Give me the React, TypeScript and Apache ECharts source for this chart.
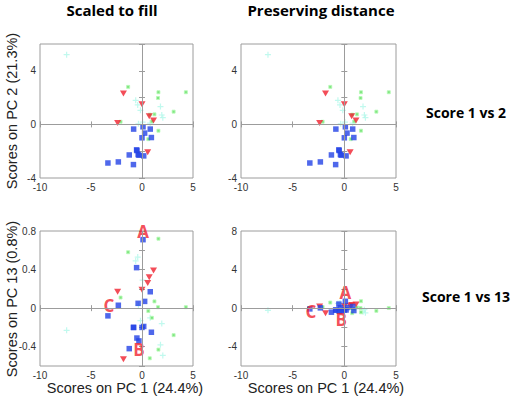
import React, { useEffect, useRef } from "react";
import * as echarts from "echarts";

// Blue squares
const bluePc1 = [0.1, 0.81, 0.26, 0, 0.92, 0.17, -2.32, -3.34, -1.25, -0.82, -0.84, -0.53, -0.5, -0.38, -0.3];
const bluePc2 = [-0.18, -0.35, -0.65, -1.0, -0.98, -2.35, -2.8, -2.88, -2.28, -0.35, -3.0, -1.9, -1.95, -2.25, -2.3];
const bluePc13 = [0.71, 0.17, 0.07, -0.2, -0.25, -0.19, 0.03, -0.08, -0.42, -0.2, -0.2, 0.42, -0.31, 0.05, -0.34];

// Red triangles
const redPc1 = [-1.82, 0, -2.39, 0.71, 1.13, 0.56];
const redPc2 = [2.3, 1.5, 0.1, 0.6, 0.3, -2.08];
const redPc13 = [-0.53, 0.19, 0.17, 0.32, 0.39, 0.26];

// Green small squares
const greenPc1 = [-1.36, 1.61, 1.57, 4.3, 3.1, 1.22, -2.1, 1.61, 0.62, 0.76, 0.97];
const greenPc2 = [2.8, 2.4, 1.97, 2.4, 0.95, 0.75, 0.2, -0.47, -1.1, 0.73, 0.22];
const greenPc13 = [0.58, 0.72, 0.01, 0.01, -0.28, 0.07, 0.11, -0.43, -0.03, -0.52, -0.1];

// Cyan plus signs
const cyanPc1 = [-7.39, -0.62, -0.42, -0.15, 1.81, 1.94, 2.04, 0.06, 0.8, -0.35];
const cyanPc2 = [5.2, 1.8, 1.45, 1.05, 1.33, 0.7, 0.5, 0.17, 0.1, 0.05];
const cyanPc13 = [-0.23, 0.49, 0.53, -0.13, -0.38, -0.16, -0.49, 0.29, -0.1, 0.03];

// Annotated blue points
const annNames = ["A", "B", "C"];
const annBlueIndex = [0, 14, 6];

const columnTitles = ["Scaled to fill", "Preserving distance"];
const rowTitles = ["Score 1 vs 2", "Score 1 vs 13"];
const xTitle = "Scores on PC 1 (24.4%)";
const yTitles = ["Scores on PC 2 (21.3%)", "Scores on PC 13 (0.8%)"];

const BLUE = "#2342e6";
const RED = "#f0212e";
const GREEN = "#62e062";
const GREEN_EDGE = "#b6fab6";
const CYAN = "#b2f8ea";
const GRAYLINE = "#9c9c9c";

const grids = [
  { left: 40, top: 44, width: 153, height: 134 },
  { left: 241, top: 44, width: 155, height: 134 },
  { left: 40, top: 231, width: 153, height: 135 },
  { left: 241, top: 231, width: 155, height: 135 },
];

const yRanges = [
  { min: -4, max: 6, interval: 2, labelStep: 4 },
  { min: -4, max: 6, interval: 2, labelStep: 4 },
  { min: -0.6, max: 0.8, interval: 0.2, labelStep: 0.4 },
  { min: -6, max: 8, interval: 2, labelStep: 4 },
];

const zip = (a: number[], b: number[]) => a.map((v, i) => [v, b[i]]);

export default function App() {
  const ref = useRef<HTMLDivElement>(null);
  useEffect(() => {
    if (!ref.current) return;
    const chart = echarts.init(ref.current, undefined, { renderer: "svg" });
    const labelFont = { fontFamily: "Liberation Sans", fontSize: 10, color: "#333" };

    const xAxes: any[] = [];
    const yAxes: any[] = [];
    grids.forEach((g, i) => {
      xAxes.push({
        type: "value", gridIndex: i, min: -10, max: 5, interval: 5, position: "bottom",
        axisLine: { show: false }, splitLine: { show: false },
        axisTick: { show: true, inside: true, length: 3, lineStyle: { color: GRAYLINE } },
        axisLabel: { ...labelFont, margin: 4 },
      });
      const yr = yRanges[i];
      yAxes.push({
        type: "value", gridIndex: i, min: yr.min, max: yr.max, interval: yr.interval, position: "left",
        axisLine: { show: false }, splitLine: { show: false },
        axisTick: { show: true, inside: true, length: 3, lineStyle: { color: GRAYLINE } },
        axisLabel: {
          ...labelFont, margin: 4,
          formatter: (v: number) => {
            const r = v / yr.labelStep;
            if (Math.abs(r - Math.round(r)) > 1e-6) return "";
            return String(Math.round(v * 10) / 10);
          },
        },
      });
    });
    grids.forEach((g, i) => {
      xAxes.push({
        type: "value", gridIndex: i, min: -10, max: 5, interval: 5, position: "top",
        axisLine: { show: false }, splitLine: { show: false }, axisLabel: { show: false },
        axisTick: { show: true, inside: true, length: 3, lineStyle: { color: GRAYLINE } },
      });
      const yr = yRanges[i];
      yAxes.push({
        type: "value", gridIndex: i, min: yr.min, max: yr.max, interval: yr.interval, position: "right",
        axisLine: { show: false }, splitLine: { show: false }, axisLabel: { show: false },
        axisTick: { show: true, inside: true, length: 3, lineStyle: { color: GRAYLINE } },
      });
    });

    const series: any[] = [];
    grids.forEach((g, i) => {
      const bottom = i >= 2;
      const by = bottom ? bluePc13 : bluePc2;
      const ry = bottom ? redPc13 : redPc2;
      const gy = bottom ? greenPc13 : greenPc2;
      const cy = bottom ? cyanPc13 : cyanPc2;
      const common = { type: "scatter", xAxisIndex: i, yAxisIndex: i, silent: true };
      series.push({
        ...common, data: zip(cyanPc1, cy), symbol: "path://M4,0H6V4H10V6H6V10H4V6H0V4H4Z", symbolSize: 6,
        itemStyle: { color: CYAN },
        markLine: {
          silent: true, symbol: "none", label: { show: false },
          lineStyle: { color: GRAYLINE, width: 1, type: "solid" },
          data: [{ xAxis: 0 }, { yAxis: 0 }],
        },
      });
      series.push({ ...common, data: zip(greenPc1, gy), symbol: "rect", symbolSize: 3, itemStyle: { color: GREEN, borderColor: GREEN_EDGE, borderWidth: 1 } });
      series.push({ ...common, data: zip(redPc1, ry), symbol: "triangle", symbolRotate: 180, symbolSize: [7, 6], itemStyle: { color: RED } });
      series.push({ ...common, data: zip(bluePc1, by), symbol: "rect", symbolSize: 5.5, itemStyle: { color: BLUE } });
      if (bottom) {
        series.push({
          ...common, symbolSize: 0,
          data: annNames.map((n, k) => {
            const idx = annBlueIndex[k];
            const pos = n === "A" ? "top" : n === "B" ? "bottom" : "left";
            const off = n === "C" && i === 3 ? [0, 4] : [0, 0];
            return {
              name: n, value: [bluePc1[idx], by[idx]],
              label: { position: pos, distance: n === "C" ? 4 : 0, offset: off },
            };
          }),
          label: {
            show: true, formatter: "{b}", color: RED, fontFamily: "Open Sans", fontWeight: 700, fontSize: 17,
          },
        });
      }
    });

    const graphic: any[] = [];
    columnTitles.forEach((t, i) => {
      graphic.push({
        type: "text", x: i === 0 ? 112 : 321, y: 10,
        style: { text: t, fill: "#000", font: "bold 15px 'Open Sans'", textAlign: "center", textVerticalAlign: "middle" },
      });
    });
    rowTitles.forEach((t, i) => {
      graphic.push({
        type: "text", x: 466, y: i === 0 ? 112 : 296,
        style: { text: t, fill: "#000", font: "bold 14px 'Open Sans'", textAlign: "center", textVerticalAlign: "middle" },
      });
    });
    [125, 326].forEach((x) => {
      graphic.push({
        type: "text", x, y: 388,
        style: { text: xTitle, fill: "#222", font: "14.5px 'Liberation Sans'", textAlign: "center", textVerticalAlign: "middle" },
      });
    });
    yTitles.forEach((t, i) => {
      graphic.push({
        type: "text", x: 12, y: i === 0 ? 111 : 299, rotation: Math.PI / 2,
        style: { text: t, fill: "#222", font: "14.5px 'Liberation Sans'", textAlign: "center", textVerticalAlign: "middle" },
      });
    });

    chart.setOption({
      animation: false,
      backgroundColor: "#fff",
      grid: grids.map((g) => ({ ...g, show: true, borderColor: GRAYLINE, borderWidth: 1, backgroundColor: "transparent" })),
      xAxis: xAxes,
      yAxis: yAxes,
      series,
      graphic,
    });
    return () => chart.dispose();
  }, []);
  return <div ref={ref} style={{ position: "absolute", left: 0, top: 0, width: 521, height: 405 }} />;
}
